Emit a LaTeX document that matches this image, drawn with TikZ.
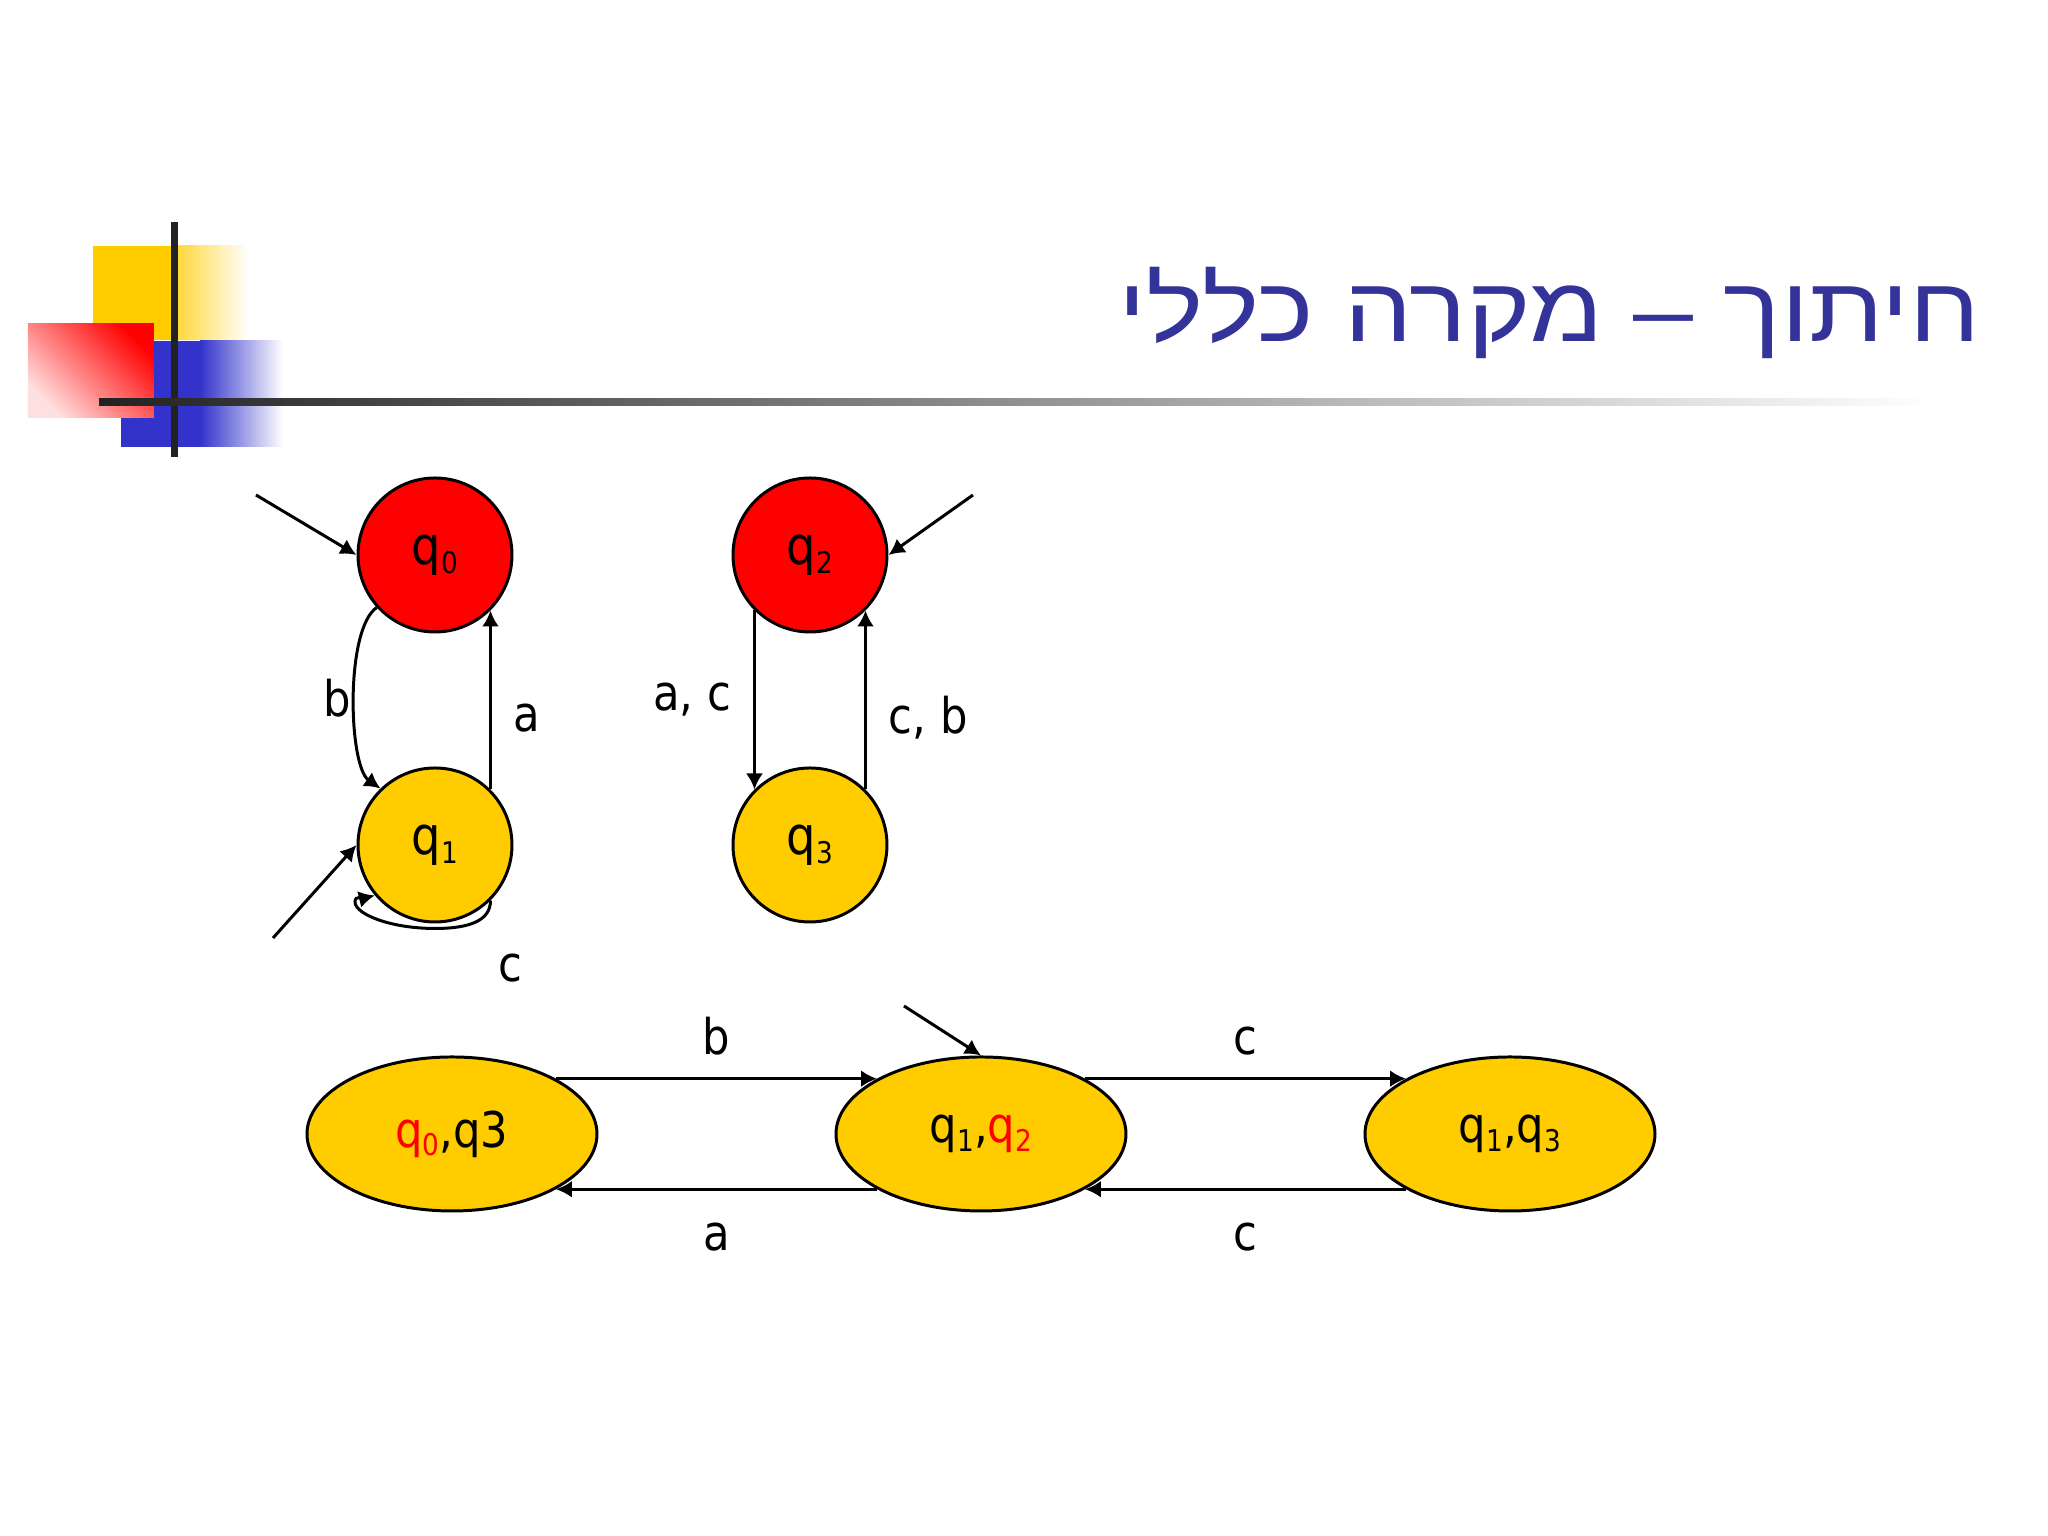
\documentclass[tikz,border=0pt]{standalone}
\usepackage{fontspec}
\setmainfont{DejaVu Sans}[FakeStretch=0.88]
\newfontfamily\hebfont[Script=Hebrew,FakeStretch=1.18]{Liberation Sans}
\TeXXeTstate=1
\usetikzlibrary{arrows,arrows.meta,automata,shapes.geometric}

\definecolor{stateyellow}{HTML}{FFCC00}
\definecolor{titleblue}{HTML}{333399}
\definecolor{logoblue}{HTML}{3333CC}
\definecolor{logoline}{HTML}{222222}

\newcommand{\idx}[1]{\raisebox{-2.5pt}{\fontsize{8.5}{9}\selectfont #1}}

\begin{document}
\begin{tikzpicture}[->,>={Latex[length=1.6mm,width=1.7mm]},auto,node distance=2.9cm,
      line width=0.85pt,font=\fontsize{14}{16}\selectfont]
    \tikzstyle{every state}=[fill=stateyellow,draw=black,minimum size=1.54cm,inner sep=0pt,
      font=\fontsize{15}{17}\selectfont]
    \tikzstyle{pair}=[ellipse,fill=stateyellow,draw=black,minimum width=2.9cm,
      minimum height=1.54cm,inner sep=0pt]

    \fill[white] (0,0) rectangle (20.48,15.36);
    \useasboundingbox (0,0) rectangle (20.48,15.36);

    % logo
    \fill[stateyellow] (0.93,11.96) rectangle (1.74,12.90);
    \shade[left color=stateyellow!80!white,right color=white] (1.74,11.96) rectangle (2.48,12.90);
    \fill[logoblue] (1.21,10.89) rectangle (2.00,11.95);
    \shade[left color=logoblue,right color=white] (2.00,10.89) rectangle (2.83,11.95);
    \shade[top color=red,bottom color=red!12,shading angle=-45] (0.28,11.18) rectangle (1.54,12.12);
    \draw[-,logoline,line width=0.07cm] (1.74,10.79) -- (1.74,13.14);
    \shade[left color=logoline,right color=white] (0.99,11.305) rectangle (19.33,11.375);

    \node[anchor=base east,inner sep=0pt,text=titleblue,
      font=\hebfont\fontsize{26}{30}\selectfont] (title) at (19.82,11.94)
      {\beginR חיתוך – מקרה כללי\endR};

    \node[state,fill=red] (q0) at (4.35,9.81) {q\idx{0}};
    \node[state]          (q1) [below of=q0] {q\idx{1}};
    \node[state,fill=red] (q2) [node distance=3.75cm,right of=q0] {q\idx{2}};
    \node[state]          (q3) [below of=q2] {q\idx{3}};

    \node[pair] (e2) at (9.81,4.02) {q\idx{1},\textcolor{red}{q\idx{2}}};
    \node[pair] (e1) [node distance=5.29cm,left of=e2] {\textcolor{red}{q\idx{0}},q3};
    \node[pair] (e3) [node distance=5.29cm,right of=e2] {q\idx{1},q\idx{3}};

    \coordinate (s0) at (2.56,10.41);
    \coordinate (s1) at (2.73,5.98);
    \coordinate (s2) at (9.73,10.41);
    \coordinate (s12) at (9.04,5.30);

    \path (s0) edge (q0.west)
    (s1) edge (q1.west)
    (s2) edge (q2.east)
    (s12) edge (e2.north);

    \path (q0.-138) edge [out=215,in=145,looseness=0.55] node[left=-1mm] {b} (q1.134)
    (q1.45) edge node[pos=0.4,right=1mm] {a} (q0.-45)
    (q2.-135) edge node[left=1mm] {a, c} (q3.135)
    (q3.45) edge node[pos=0.4,right=1mm] {c, b} (q2.-45);

    \draw (q1.-45) node[below=4mm,xshift=2mm] {c}
    .. controls +(0,-0.2) and +(0.35,0) .. ([yshift=-0.05cm]q1.south)
    .. controls +(-0.45,0) and +(0,-0.12) .. ([shift={(-0.8,-0.57)}]q1.center)
    .. controls +(0,0.07) and +(-0.12,-0.03) .. (q1.-140);

    \path (e1.28) edge node[above=1mm] {b} (e2.152)
    (e2.208) edge node[below=2mm] {a} (e1.-28)
    (e2.28) edge node[above=1mm] {c} (e3.152)
    (e3.208) edge node[below=2mm] {c} (e2.-28);
  \end{tikzpicture}
\end{document}
